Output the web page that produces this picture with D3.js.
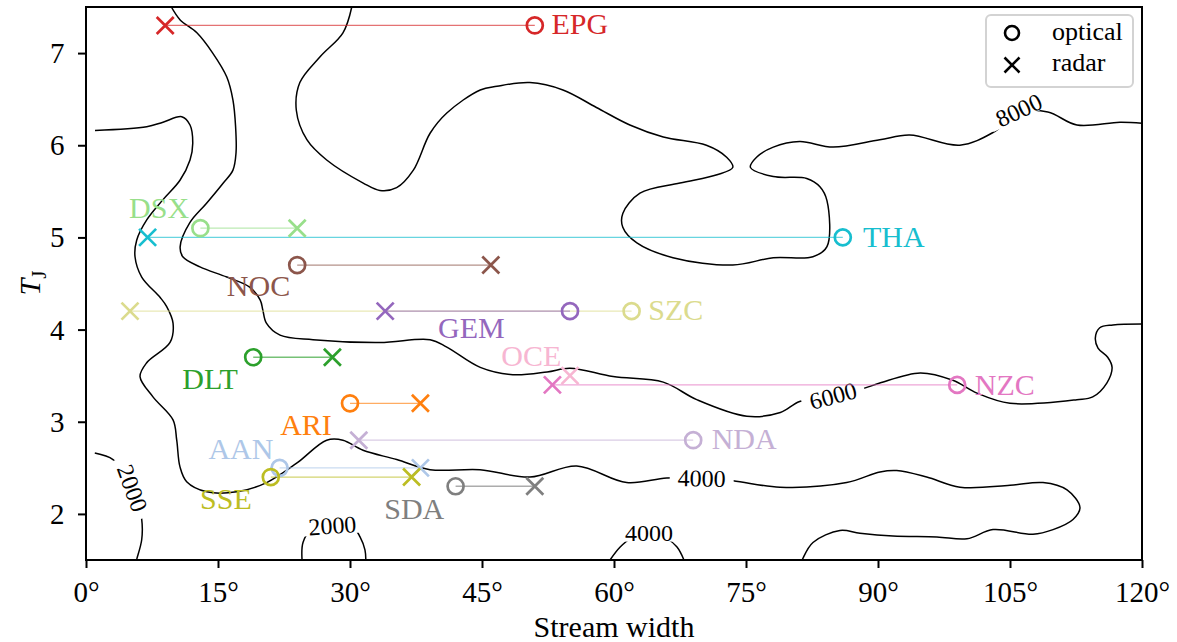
<!DOCTYPE html>
<html><head><meta charset="utf-8">
<script src="https://cdn.jsdelivr.net/npm/d3@7"></script>
<style>body{margin:0;background:#fff} svg{display:block}</style>
</head><body><svg id="c" width="1177" height="642"></svg>
<script>
// ---------- data ----------
const showers      = ["EPG","DSX","THA","NOC","SZC","GEM","DLT","OCE","NZC","ARI","NDA","AAN","SSE","SDA"];
const tisserand    = [7.3, 5.1, 5.0, 4.7, 4.2, 4.2, 3.7, 3.5, 3.4, 3.2, 2.8, 2.5, 2.4, 2.3];
const opticalWidth = [51, 13, 86, 24, 62, 55, 19, null, 99, 30, 69, 22, 21, 42];
const radarWidth   = [9, 24, 7, 46, 5, 34, 28, 55, 53, 38, 31, 38, 37, 51];
const showerColors = ["#d62728","#98df8a","#17becf","#8c564b","#dbdb8d","#9467bd","#2ca02c",
                      "#f7b6d2","#e377c2","#ff7f0e","#c5b0d5","#aec7e8","#bcbd22","#7f7f7f"];
// label anchor points (data units) and alignment
const labelX      = [52.9, 8.3, 88.3, 19.6, 63.9, 43.8, 14.1, 50.6, 101.0, 25.0, 71.1, 17.6, 15.9, 37.3];
const labelY      = [7.21, 5.21, 4.90, 4.36, 4.10, 3.91, 3.35, 3.60, 3.29, 2.86, 2.70, 2.60, 2.05, 1.95];
const labelAnchor = ["start","middle","start","middle","start","middle","middle","middle","start","middle","start","middle","middle","middle"];

const xTicks = [0,15,30,45,60,75,90,105,120];
const yTicks = [2,3,4,5,6,7];

// contour lines [stream width, T_J]
const contour2000a = [[1.0,2.66],[3.07,2.59],[4.5,2.42],[5.26,2.28],[5.9,2.1],[6.33,1.94],[6.33,1.72],[5.8,1.52],[5.75,1.5]];
const contour2000b = [[24.55,1.5],[24.66,1.69],[25.6,1.83],[27.99,1.873],[30.4,1.85],[31.14,1.75],[31.7,1.61],[31.8,1.5]];
const contour4000b = [[59.55,1.5],[60.7,1.64],[62.0,1.74],[63.98,1.8],[65.9,1.74],[67.16,1.64],[67.95,1.5]];
const contour4000a = [[1.02,6.16],[6.9,6.2],[8.75,6.25],[10.88,6.31],[11.82,6.22],[12.13,6.02],[11.82,5.84],[10.68,5.62],
  [8.75,5.41],[6.9,5.19],[5.76,4.97],[5.57,4.79],[6.33,4.57],[8.41,4.35],[9.17,4.25],[9.89,4.07],[9.55,3.86],[6.9,3.64],
  [6.14,3.49],[7.61,3.27],[9.89,3.02],[10.31,2.8],[10.68,2.51],[11.44,2.35],[13.72,2.24],[17.13,2.24],[20.53,2.34],
  [23.94,2.55],[27.35,2.8],[29.2,2.8],[31.48,2.69],[35.31,2.59],[39.09,2.48],[44.77,2.48],[50.45,2.4],[55.76,2.52],
  [61.44,2.34],[65.99,2.39],[69.97,2.387],[73.52,2.36],[78.86,2.29],[86.44,2.34],[90.23,2.455],[92.13,2.47],[95.53,2.4],
  [99.32,2.29],[105.0,2.31],[108.75,2.34],[111.48,2.26],[112.95,2.07],[112.16,1.94],[109.89,1.83],[107.61,1.78],
  [103.07,1.83],[100.11,1.73],[96.7,1.75],[91.7,1.76],[87.95,1.79],[85.68,1.82],[82.61,1.69],[81.48,1.52],[81.4,1.5]];
const contour6000 = [[9.7,7.5],[10.7,7.36],[12.6,7.22],[14.4,7.0],[16.0,6.74],[16.7,6.49],[17.0,6.2],[17.05,5.92],
  [16.7,5.73],[15.6,5.59],[13.7,5.37],[11.8,5.16],[10.7,4.9],[11.0,4.79],[12.95,4.68],[16.0,4.57],[18.6,4.46],
  [19.8,4.32],[20.1,4.21],[20.5,4.07],[22.05,3.94],[25.8,3.89],[33.4,3.86],[39.1,3.89],[41.0,3.81],[44.8,3.59],
  [48.5,3.51],[52.4,3.54],[55.0,3.58],[59.9,3.49],[65.6,3.43],[69.4,3.24],[75.1,3.06],[78.9,3.1],[81.1,3.22],
  [84.9,3.28],[88.0,3.35],[90.2,3.42],[94.8,3.53],[98.5,3.45],[101.25,3.31],[105.0,3.2],[112.6,3.24],[114.4,3.27],
  [116.0,3.42],[116.6,3.59],[116.1,3.7],[115.0,3.8],[114.7,3.91],[115.2,4.02],[116.7,4.05],[120,4.06]];
const contour8000 = [[30.2,7.5],[29.2,7.22],[26.6,6.96],[24.3,6.68],[23.9,6.38],[25.1,6.06],[27.35,5.84],[31.5,5.59],
  [33.4,5.51],[35.3,5.54],[37.2,5.73],[39.1,6.13],[41.0,6.35],[44.8,6.6],[46.7,6.64],[50.45,6.68],[54.2,6.6],
  [58.0,6.41],[61.8,6.22],[65.6,6.09],[70.5,6.0],[72.8,5.87],[73.5,5.76],[71.7,5.68],[67.5,5.59],[62.95,5.48],
  [61.0,5.26],[61.0,5.11],[62.6,4.94],[66.7,4.78],[73.5,4.7],[78.1,4.78],[82.6,4.79],[84.2,4.9],[84.2,5.4],
  [83.4,5.55],[81.9,5.64],[78.1,5.66],[75.5,5.76],[76.2,5.87],[78.1,5.98],[81.1,6.04],[84.9,5.98],[90.2,6.06],
  [93.6,6.11],[99.3,6.0],[103.1,6.14],[106.0,6.35],[109.3,6.36],[112.6,6.22],[117.5,6.25],[120,6.24]];
const contours = [contour2000a, contour2000b, contour4000a, contour4000b, contour6000, contour8000];
// contour labels: text, x, y, rotation (deg)
const contourLabelText = ["2000","2000","4000","4000","6000","8000"];
const contourLabelX    = [5.26, 27.99, 69.97, 63.98, 84.9, 106.0];
const contourLabelY    = [2.28, 1.873, 2.387, 1.797, 3.28, 6.38];
const contourLabelRot  = [70, -4, 1, 0, -15, -25];

// ---------- drawing ----------
const svg = d3.select("#c");
const W = 1177, H = 642;
const L = 86, R = 1142, T = 7, B = 560;
const x = d3.scaleLinear().domain([0,120]).range([L,R]);
const y = d3.scaleLinear().domain([1.5,7.5]).range([B,T]);
const FONT = "'Liberation Serif','Times New Roman',serif";

svg.append("rect").attr("width",W).attr("height",H).attr("fill","#fff");
svg.append("defs").append("clipPath").attr("id","clip")
  .append("rect").attr("x",L).attr("y",T).attr("width",R-L).attr("height",B-T);

const plot = svg.append("g").attr("clip-path","url(#clip)");

const line = d3.line().x(d=>x(d[0])).y(d=>y(d[1])).curve(d3.curveCatmullRom.alpha(0.5));
plot.selectAll("path.contour").data(contours).join("path")
  .attr("class","contour").attr("d",line)
  .attr("fill","none").attr("stroke","#000").attr("stroke-width",1.5);

// contour labels with gap
const cl = plot.selectAll("g.cl").data(contourLabelText).join("g").attr("class","cl")
  .attr("transform",(d,i)=>`translate(${x(contourLabelX[i])},${y(contourLabelY[i])}) rotate(${contourLabelRot[i]})`);
cl.append("rect").attr("fill","#fff");
cl.append("text").text(d=>d)
  .attr("text-anchor","middle").attr("dy","0.34em")
  .attr("font-family",FONT).attr("font-size",24).attr("fill","#000");
cl.each(function(){
  const g = d3.select(this);
  const bb = g.select("text").node().getBBox();
  g.select("rect").attr("x",bb.x-8).attr("y",-9).attr("width",bb.width+16).attr("height",18);
});

// connecting lines
showers.forEach((s,i)=>{
  if (opticalWidth[i]!=null && radarWidth[i]!=null) {
    plot.append("line")
      .attr("x1",x(opticalWidth[i])).attr("x2",x(radarWidth[i]))
      .attr("y1",y(tisserand[i])).attr("y2",y(tisserand[i]))
      .attr("stroke",showerColors[i]).attr("stroke-width",1.3).attr("stroke-opacity",0.65);
  }
});
// markers
showers.forEach((s,i)=>{
  const c = showerColors[i], yy = y(tisserand[i]);
  if (opticalWidth[i]!=null)
    plot.append("circle").attr("cx",x(opticalWidth[i])).attr("cy",yy).attr("r",8)
      .attr("fill","none").attr("stroke",c).attr("stroke-width",2.7);
  if (radarWidth[i]!=null)
    plot.append("path").attr("transform",`translate(${x(radarWidth[i])},${yy})`)
      .attr("d","M-8.5,-8.5L8.5,8.5M-8.5,8.5L8.5,-8.5")
      .attr("stroke",c).attr("stroke-width",2.7).attr("fill","none");
});
// shower labels
svg.selectAll("text.lab").data(showers).join("text").attr("class","lab")
  .attr("x",(d,i)=>x(labelX[i])).attr("y",(d,i)=>y(labelY[i]))
  .attr("text-anchor",(d,i)=>labelAnchor[i])
  .attr("font-family",FONT).attr("font-size",30)
  .attr("fill",(d,i)=>showerColors[i]).text(d=>d);

// axes
const xAxis = svg.append("g").attr("transform",`translate(0,${B})`)
  .call(d3.axisBottom(x).tickValues(xTicks).tickSize(8).tickFormat(d=>d+"°"));
xAxis.select(".domain").remove();
xAxis.selectAll("line").attr("stroke","#000").attr("stroke-width",2);
xAxis.selectAll("text").attr("dy",null).attr("y",42)
  .attr("font-family",FONT).attr("font-size",29).attr("fill","#000");

const yAxis = svg.append("g").attr("transform",`translate(${L},0)`)
  .call(d3.axisLeft(y).tickValues(yTicks).tickSize(8).tickFormat(d3.format("d")));
yAxis.select(".domain").remove();
yAxis.selectAll("line").attr("stroke","#000").attr("stroke-width",2);
yAxis.selectAll("text").attr("x",-21.5).attr("dy","0.33em")
  .attr("font-family",FONT).attr("font-size",29).attr("fill","#000");

svg.append("rect").attr("x",L).attr("y",T).attr("width",R-L).attr("height",B-T)
  .attr("fill","none").attr("stroke","#000").attr("stroke-width",2);

// axis titles
svg.append("text").attr("x",(L+R)/2).attr("y",637).attr("text-anchor","middle")
  .attr("font-family",FONT).attr("font-size",30).attr("fill","#000").text("Stream width");
const yt = svg.append("text").attr("transform","translate(40,283) rotate(-90)")
  .attr("text-anchor","middle").attr("font-family",FONT).attr("font-size",30).attr("fill","#000");
yt.append("tspan").attr("font-style","italic").text("T");
yt.append("tspan").attr("font-size",21).attr("dy",6).text("J");

// legend
const lg = svg.append("g");
lg.append("rect").attr("x",986).attr("y",15).attr("width",147).attr("height",72).attr("rx",5)
  .attr("fill","#fff").attr("fill-opacity",0.8).attr("stroke","#d3d3d3").attr("stroke-width",2);
lg.append("circle").attr("cx",1012).attr("cy",33).attr("r",7).attr("fill","none")
  .attr("stroke","#000").attr("stroke-width",2.6);
lg.append("path").attr("transform","translate(1012,65)").attr("d","M-7.5,-7.5L7.5,7.5M-7.5,7.5L7.5,-7.5")
  .attr("stroke","#000").attr("stroke-width",2.6);
lg.append("text").attr("x",1052).attr("y",40).attr("font-family",FONT).attr("font-size",26).text("optical");
lg.append("text").attr("x",1052).attr("y",71).attr("font-family",FONT).attr("font-size",26).text("radar");
</script></body></html>
